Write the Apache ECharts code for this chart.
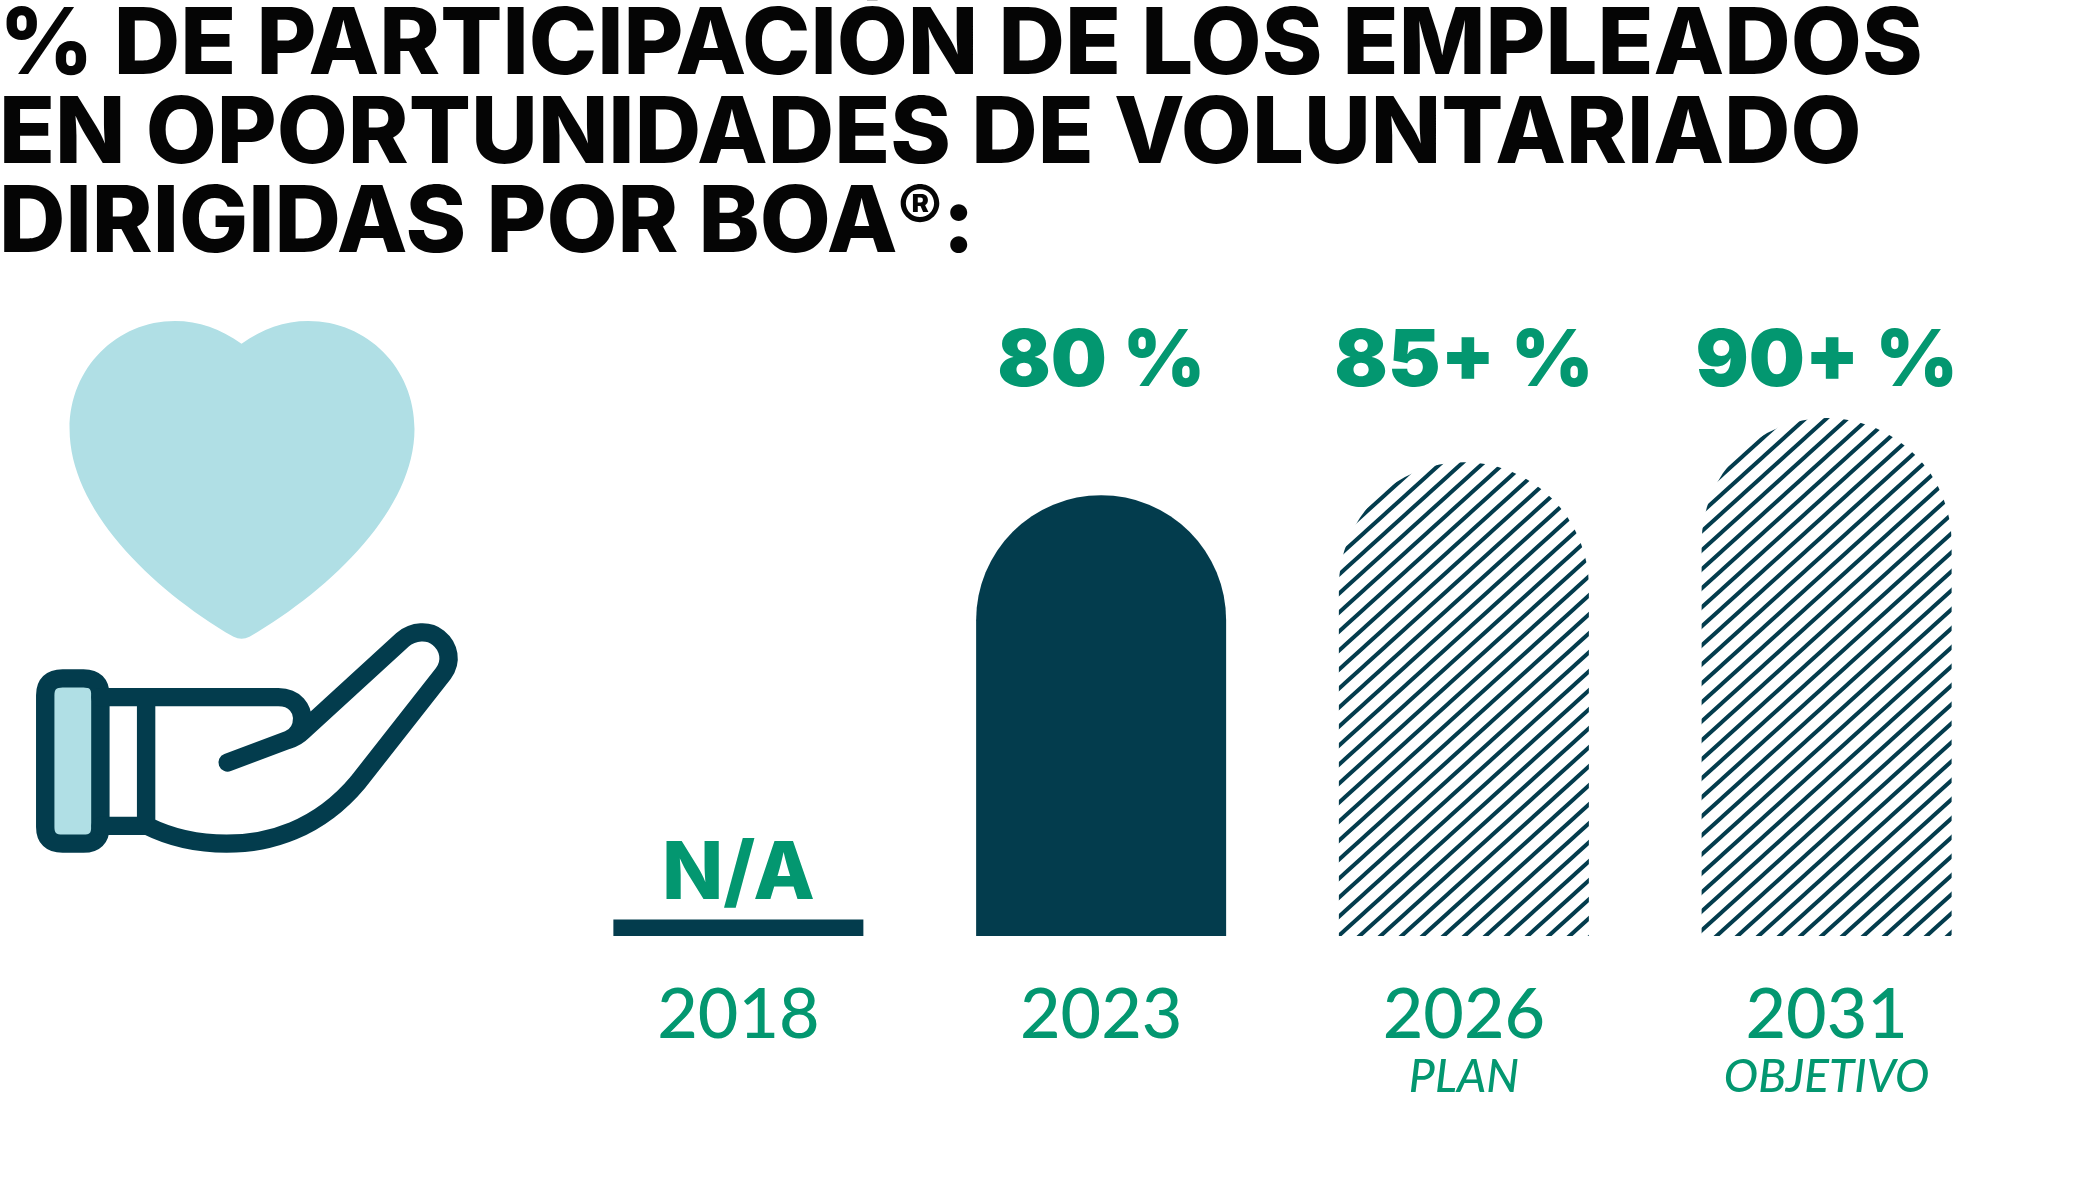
<!DOCTYPE html>
<html>
<head>
<meta charset="utf-8">
<title>Voluntariado</title>
<script src="https://cdn.jsdelivr.net/npm/echarts@6/dist/echarts.min.js"></script>
<style>
html,body{margin:0;padding:0;background:#fff;}
#chart{width:2083px;height:1195px;}
</style>
</head>
<body>
<div id="chart"></div>
<script>
var titleText = '% DE PARTICIPACIÓN DE LOS EMPLEADOS\nEN OPORTUNIDADES DE VOLUNTARIADO\nDIRIGIDAS POR BOA{r|®}:';
var years = ['2018', '2023', '2026', '2031'];
var subLabels = ['', '', 'PLAN', 'OBJETIVO'];
var topLabels = ['', '80 %', '85+ %', '90+ %'];
// alturas (2018 es solo la raya N/A)
var values = [3, 80, 86, 94];

var GREEN = '#039770';
var DARK = '#033c4d';
var LIGHT = '#b0dfe5';

// trama diagonal de las barras futuras
function hatch() {
	var w = 21, h = 19;
	var c = document.createElement('canvas');
	c.width = w;
	c.height = h;
	var g = c.getContext('2d');
	g.strokeStyle = DARK;
	g.lineWidth = 4;
	g.beginPath();
	for (var k = -1; k <= 1; k++) {
		g.moveTo(-w + k * w, 2 * h);
		g.lineTo(2 * w + k * w, -h);
	}
	g.stroke();
	return c;
}

// icono de la mano con el corazon
function icon() {
	var c = document.createElement('canvas');
	c.width = 500;
	c.height = 900;
	var g = c.getContext('2d');
	g.translate(0, 3.2);
	g.scale(0.994, 0.99);
	g.fillStyle = LIGHT;
	g.fill(new Path2D('M243,344 C222,329 200,321 176,321 C118,321 70,368 70,430 C70,510 150,590 235,640 Q243,644 251,640 C336,590 417,510 417,430 C417,368 369,321 310,321 C286,321 264,329 243,344 Z'));
	g.strokeStyle = DARK;
	g.lineWidth = 18.5;
	g.lineCap = 'round';
	g.lineJoin = 'round';
	var cuff = new Path2D('M63,682 H84 Q101,682 101,699 V832 Q101,849 84,849 H63 Q45.5,849 45.5,832 V699 Q45.5,682 63,682 Z');
	g.fill(cuff);
	g.stroke(cuff);
	g.stroke(new Path2D('M101,701 H280 C298,701 304,714 304,722 C304,733 298,741 290,744 L229,767 M290,744 Q298,742 305,735 L405,643 C416,634 431,633 441,641 C452,650 455,665 446,677 L360,787 C320,835 270,849 228,849 C200,849 172,843 148,831 H101 M147,701 V831'));
	return c;
}

var barColors = [DARK, DARK, {image: hatch(), repeat: 'repeat'}, {image: hatch(), repeat: 'repeat'}];
var radius = 125;

var myChart = echarts.init(document.getElementById('chart'));
myChart.setOption({
	animation: false,
	backgroundColor: '#fff',
	title: {
		text: titleText,
		left: -1,
		top: 2,
		padding: 0,
		textStyle: {
			fontFamily: 'Inter',
			fontWeight: 800,
			fontSize: 92,
			lineHeight: 89,
			color: '#050505',
			rich: {
				r: {fontFamily: 'Inter', fontWeight: 800, fontSize: 68, lineHeight: 89, verticalAlign: 'top', color: '#050505'}
			}
		}
	},
	grid: {left: 557, width: 1451, top: 385, height: 551},
	xAxis: [{
		type: 'category',
		data: years,
		position: 'bottom',
		axisLine: {show: false},
		axisTick: {show: false},
		axisLabel: {
			margin: 41,
			interval: 0,
			formatter: function(v, i) {
				return subLabels[i] ? '{y|' + v + '}\n{s|' + subLabels[i] + '}' : '{y|' + v + '}';
			},
			verticalAlign: 'top',
			rich: {
				y: {fontFamily: 'Lato', fontWeight: 500, fontSize: 70, lineHeight: 77, color: GREEN},
				s: {fontFamily: 'Lato', fontStyle: 'italic', fontWeight: 500, fontSize: 46, lineHeight: 46, color: GREEN}
			}
		}
	}, {
		type: 'category',
		data: topLabels,
		position: 'top',
		axisLine: {show: false},
		axisTick: {show: false},
		axisLabel: {
			margin: -17,
			interval: 0,
			fontFamily: 'Inter',
			fontWeight: 900,
			fontSize: 79,
			color: GREEN
		}
	}],
	yAxis: {type: 'value', min: 0, max: 100, show: false},
	series: [{
		type: 'bar',
		barWidth: 250,
		data: values.map(function(v, i) {
			return {
				value: v,
				itemStyle: {
					color: barColors[i],
					borderRadius: i === 0 ? 0 : [radius, radius, 0, 0]
				},
				label: i === 0 ? {
					show: true,
					position: 'top',
					distance: 5,
					formatter: 'N/A',
					fontFamily: 'Inter',
					fontWeight: 800,
					fontSize: 80,
					color: GREEN
				} : {show: false}
			};
		})
	}],
	graphic: [{
		type: 'image',
		x: 0,
		y: 0,
		style: {image: icon(), x: 0, y: 0, width: 500, height: 900}
	}]
});
</script>
</body>
</html>
